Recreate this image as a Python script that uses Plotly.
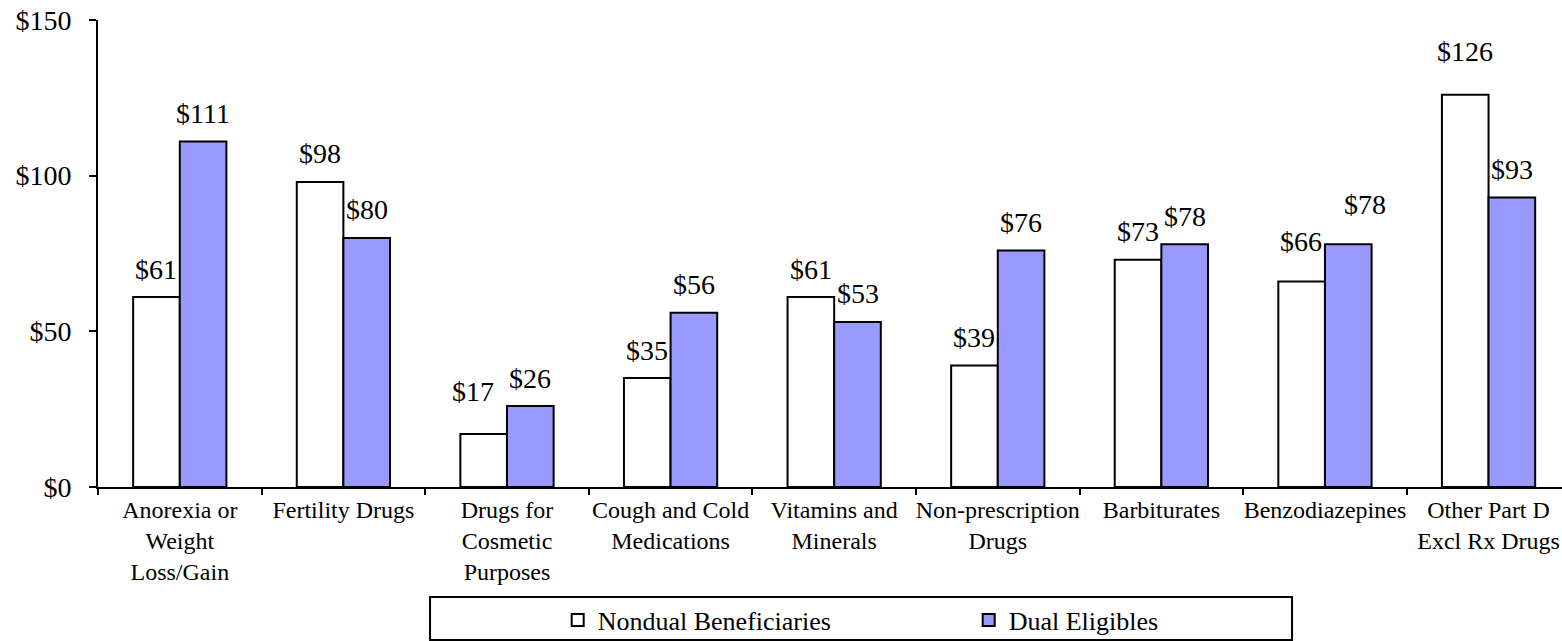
import plotly.graph_objects as go

categories = [
    "Anorexia or<br>Weight<br>Loss/Gain",
    "Fertility Drugs",
    "Drugs for<br>Cosmetic<br>Purposes",
    "Cough and Cold<br>Medications",
    "Vitamins and<br>Minerals",
    "Non-prescription<br>Drugs",
    "Barbiturates",
    "Benzodiazepines",
    "Other Part D<br>Excl Rx Drugs",
]
nondual = [61, 98, 17, 35, 61, 39, 73, 66, 126]
dual = [111, 80, 26, 56, 53, 76, 78, 78, 93]
y_ticks = [0, 50, 100, 150]
y_tick_text = ["$0", "$50", "$100", "$150"]

FONT = "Liberation Serif, Times New Roman, serif"
PURPLE = "#9999FF"

# label nudges (px) where the labels were moved by hand in the original
nondual_nudge = {2: (-10, 15), 7: (0, 12), 8: (0, 15)}
dual_nudge = {7: (17, 12)}

fig = go.Figure()
fig.add_trace(go.Bar(x=categories, y=nondual, name="Nondual Beneficiaries",
                     marker=dict(color="white", line=dict(color="black", width=2))))
fig.add_trace(go.Bar(x=categories, y=dual, name="Dual Eligibles",
                     marker=dict(color=PURPLE, line=dict(color="black", width=2))))

half_bar = 23.5
for i, (cat, v) in enumerate(zip(categories, nondual)):
    dx, dy = nondual_nudge.get(i, (0, 0))
    fig.add_annotation(x=cat, y=v, text="$" + str(v), showarrow=False,
                       xshift=-half_bar + dx, yshift=28 + dy, yanchor="middle",
                       font=dict(family=FONT, size=28, color="black"))
for i, (cat, v) in enumerate(zip(categories, dual)):
    dx, dy = dual_nudge.get(i, (0, 0))
    fig.add_annotation(x=cat, y=v, text="$" + str(v), showarrow=False,
                       xshift=half_bar + dx, yshift=28 + dy, yanchor="middle",
                       font=dict(family=FONT, size=28, color="black"))

# legend frame
fig.add_shape(type="rect", xref="paper", yref="paper",
              x0=0.2268, x1=0.8156, y0=-0.3276, y1=-0.2355,
              line=dict(color="black", width=2), fillcolor="white", layer="below")

fig.update_layout(
    width=1562, height=641,
    margin=dict(l=98, r=0, t=20, b=154, autoexpand=False),
    paper_bgcolor="white", plot_bgcolor="white",
    font=dict(family=FONT, color="black"),
    barmode="group", bargap=0.43, bargroupgap=0,
    showlegend=True,
    legend=dict(orientation="h", x=0.314, xanchor="left", y=-0.2848, yanchor="middle",
                font=dict(family=FONT, size=26, color="black"),
                entrywidth=366, itemwidth=30, bgcolor="rgba(0,0,0,0)", borderwidth=0),
)
fig.update_xaxes(
    range=[-0.5, 8.449], showline=True, linecolor="black", linewidth=2,
    ticks="outside", tickson="boundaries", ticklen=6, tickcolor="black", tickwidth=2,
    tickfont=dict(family=FONT, size=24, color="black"), tickangle=0,
    showgrid=False, zeroline=False, automargin=False,
)
fig.update_yaxes(
    range=[0, 150], tickvals=y_ticks, ticktext=y_tick_text, showline=True,
    linecolor="black", linewidth=2, ticks="outside", ticklen=7, tickcolor="black",
    tickwidth=2, ticklabelstandoff=12, tickfont=dict(family=FONT, size=28, color="black"),
    ticklabeloverflow="allow", showgrid=False, zeroline=False, automargin=False,
)

# drop the default 8px page margin so the figure fills the window
fig.write_html("out.html", config={"displayModeBar": False},
               post_script="document.body.style.margin = '0';")
